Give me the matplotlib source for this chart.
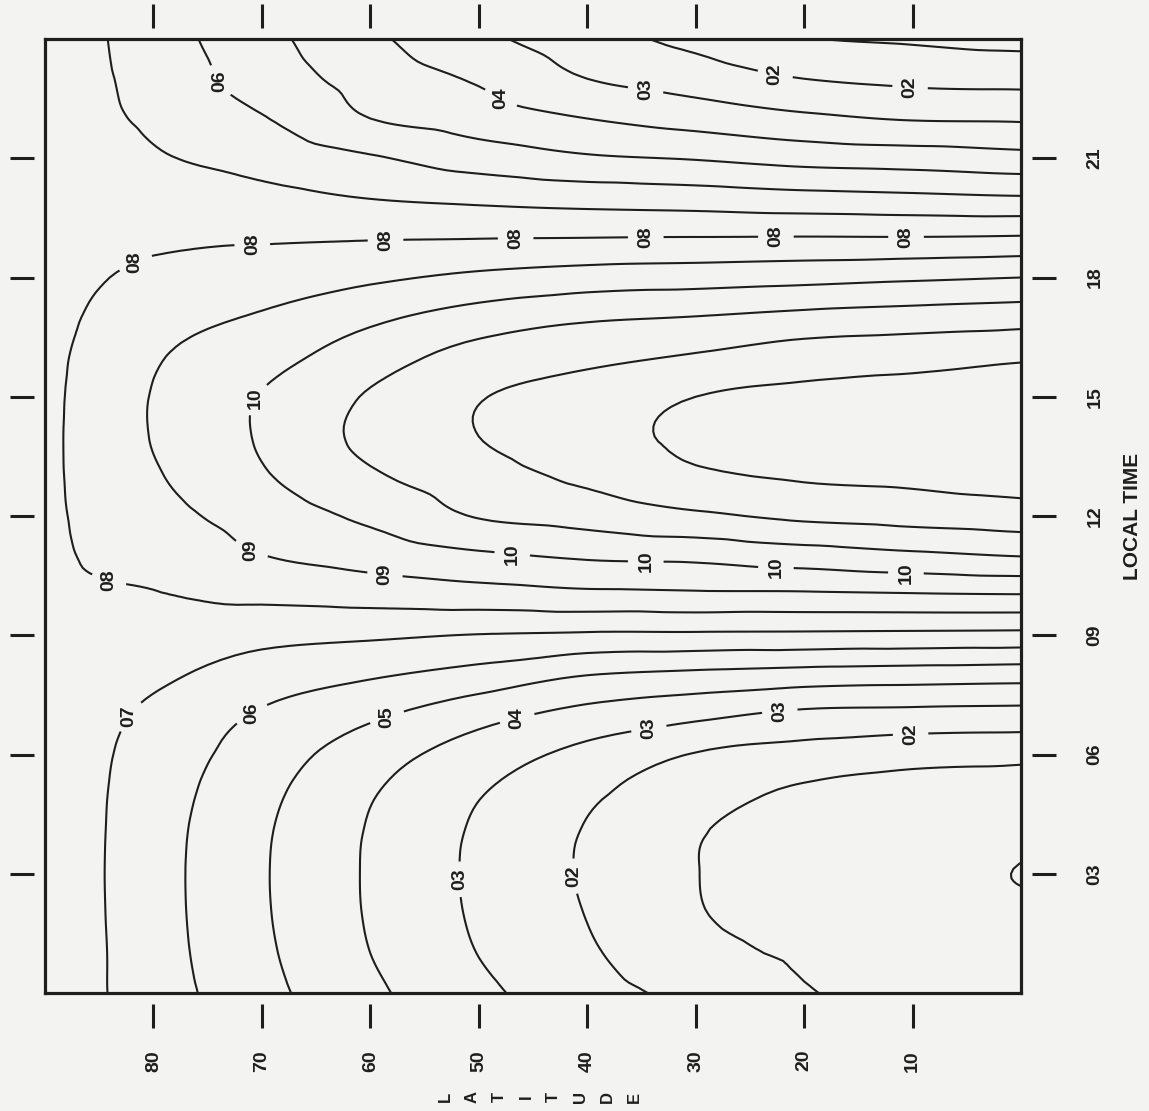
import numpy as np
import matplotlib
matplotlib.use('Agg')
import matplotlib.pyplot as plt
import matplotlib.tri as mtri

# grid: rows = latitude, columns = local time 00..24 h
latitude = [0, 10, 20, 30, 40, 50, 60, 70, 80, 85, 90]
local_time = [0, 1, 2, 3, 4, 5, 6, 7, 8, 9, 10, 11, 12,
              13, 14, 15, 16, 17, 18, 19, 20, 21, 22, 23, 24]

r_lat00 = [0.07, 0.04, 0.02, -0.004, 0.02, 0.03, 0.13, 0.263, 0.441, 0.672, 0.893, 1.103, 1.254,
           1.34, 1.37, 1.345, 1.288, 1.157, 1.0, 0.81, 0.61, 0.433, 0.288, 0.17, 0.07]
r_lat10 = [0.087, 0.068, 0.052, 0.042, 0.045, 0.052, 0.138, 0.269, 0.449, 0.676, 0.888, 1.08, 1.237,
           1.32, 1.35, 1.33, 1.268, 1.143, 0.985, 0.804, 0.622, 0.452, 0.293, 0.177, 0.087]
r_lat20 = [0.105, 0.088, 0.076, 0.068, 0.072, 0.082, 0.164, 0.278, 0.459, 0.68, 0.881, 1.053, 1.219,
           1.31, 1.34, 1.32, 1.252, 1.127, 0.969, 0.805, 0.633, 0.465, 0.32, 0.2, 0.105]
r_lat30 = [0.173, 0.126, 0.106, 0.102, 0.106, 0.142, 0.195, 0.324, 0.477, 0.683, 0.88, 1.025, 1.183,
           1.284, 1.32, 1.3, 1.21, 1.103, 0.956, 0.803, 0.65, 0.494, 0.36, 0.252, 0.173]
r_lat40 = [0.241, 0.213, 0.197, 0.189, 0.193, 0.216, 0.271, 0.368, 0.501, 0.685, 0.874, 1.014, 1.14,
           1.22, 1.26, 1.245, 1.175, 1.086, 0.945, 0.8, 0.661, 0.513, 0.4, 0.3, 0.241]
r_lat50 = [0.322, 0.298, 0.286, 0.282, 0.286, 0.305, 0.353, 0.435, 0.565, 0.696, 0.856, 0.984, 1.106,
           1.16, 1.2, 1.195, 1.14, 1.043, 0.92, 0.797, 0.678, 0.553, 0.45, 0.389, 0.322]
r_lat60 = [0.42, 0.4, 0.391, 0.389, 0.392, 0.407, 0.445, 0.517, 0.611, 0.715, 0.838, 0.942, 1.02,
           1.087, 1.125, 1.11, 1.053, 0.98, 0.883, 0.794, 0.698, 0.61, 0.5, 0.458, 0.42]
r_lat70 = [0.531, 0.518, 0.511, 0.509, 0.5125, 0.526, 0.552, 0.59, 0.652, 0.729, 0.82, 0.898, 0.945,
           0.99, 1.01, 1.005, 0.963, 0.91, 0.847, 0.79, 0.726, 0.666, 0.606, 0.556, 0.531]
r_lat80 = [0.649, 0.643, 0.64, 0.639, 0.641, 0.648, 0.66, 0.68, 0.72, 0.765, 0.795, 0.83, 0.865,
           0.89, 0.905, 0.905, 0.89, 0.86, 0.825, 0.78, 0.745, 0.71, 0.684, 0.666, 0.649]
r_lat85 = [0.71, 0.71, 0.708, 0.707, 0.708, 0.71, 0.715, 0.727, 0.745, 0.77, 0.79, 0.812, 0.826,
           0.836, 0.84, 0.837, 0.828, 0.812, 0.795, 0.775, 0.755, 0.737, 0.72, 0.715, 0.71]
r_lat90 = [0.78] * 25

levels = [0.0, 0.1, 0.2, 0.3, 0.4, 0.5, 0.6, 0.7, 0.8, 0.9, 1.0, 1.1, 1.2, 1.3]
label_text = {0.0: '00', 0.1: '01', 0.2: '02', 0.3: '03', 0.4: '04', 0.5: '05', 0.6: '06',
              0.7: '07', 0.8: '08', 0.9: '09', 1.0: '10', 1.1: '11', 1.2: '12', 1.3: '13'}

# where the contour labels sit (latitude, local time)
label_spots = [(73.1, 23.1), (48.0, 22.5), (34.6, 22.76), (22.6, 23.2), (10.2, 22.9),
               (81.7, 18.4), (70.9, 19.0), (58.6, 19.0), (46.6, 19.0), (34.6, 19.0),
               (22.6, 19.0), (10.6, 19.0),
               (70.9, 15.0), (70.9, 11.2), (84.0, 10.6), (58.6, 10.65), (46.9, 11.1),
               (34.6, 10.9), (22.6, 10.75), (10.6, 10.7),
               (82.4, 7.0), (71.1, 7.1), (58.8, 7.2), (46.6, 7.06), (34.4, 6.8),
               (22.3, 7.26), (10.2, 6.63),
               (51.7, 2.86), (41.1, 2.94)]

lt_ticks = [3, 6, 9, 12, 15, 18, 21]
lt_ticklabels = ['03', '06', '09', '12', '15', '18', '21']
lat_ticks = [10, 20, 30, 40, 50, 60, 70, 80]
lat_ticklabels = ['10', '20', '30', '40', '50', '60', '70', '80']

plt.rcParams['font.family'] = ['Liberation Sans', 'DejaVu Sans']
plt.rcParams['font.weight'] = 'bold'

ink = '#1e1e1e'
paper = '#f3f3f1'

z = np.array([r_lat00, r_lat10, r_lat20, r_lat30, r_lat40, r_lat50,
              r_lat60, r_lat70, r_lat80, r_lat85, r_lat90])
LAT, LT = np.meshgrid(latitude, local_time, indexing='ij')
nlt = len(local_time)
triangles = []
for i in range(len(latitude) - 1):
    for j in range(nlt - 1):
        k = i * nlt + j
        triangles.append([k, k + 1, k + nlt])
        triangles.append([k + 1, k + nlt + 1, k + nlt])

# smooth the coarse grid with matplotlib's own cubic refiner
tri = mtri.Triangulation(LAT.ravel() / 10.0, LT.ravel() / 3.0, triangles)
interp = mtri.CubicTriInterpolator(tri, z.ravel(), kind='geom')
tri_f, z_f = mtri.UniformTriRefiner(tri).refine_field(z.ravel(), triinterpolator=interp, subdiv=3)
tri_p = mtri.Triangulation(tri_f.x * 10.0, tri_f.y * 3.0, tri_f.triangles)

fig = plt.figure(figsize=(11.49, 11.11), dpi=100, facecolor=paper)
pos = [45 / 1149, 1 - 993 / 1111, (1021 - 45) / 1149, (993 - 39) / 1111]
ax = fig.add_axes(pos, facecolor=paper)
ax.set_xlim(90, 0)
ax.set_ylim(0, 24)
cs = ax.tricontour(tri_p, z_f, levels=levels, colors=ink, linewidths=1.5)
ax.set_xticks([])
ax.set_yticks([])
for s in ax.spines.values():
    s.set_linewidth(2.3)
    s.set_color(ink)

texts = ax.clabel(cs, fmt=label_text, manual=label_spots, inline=True,
                  inline_spacing=7, fontsize=14)
for t in texts:
    t.set_rotation(90)
    t.set_color(ink)

# detached tick marks, like the plotter drew them
ax2 = fig.add_axes(pos, facecolor='none')
ax2.set_xlim(90, 0)
ax2.set_ylim(0, 24)
for s in ax2.spines.values():
    s.set_visible(False)
    s.set_position(('outward', 8))
ax2.set_xticks(lat_ticks, lat_ticklabels)
ax2.set_yticks(lt_ticks, lt_ticklabels)
ax2.tick_params(direction='out', length=17, width=2.2, color=ink, top=True, right=True,
                left=True, bottom=True, labelleft=False, labeltop=False,
                labelright=True, labelbottom=True, labelsize=14, labelcolor=ink)
ax2.tick_params(axis='y', pad=22)
ax2.tick_params(axis='x', pad=16)
for lb in ax2.get_xticklabels():
    lb.set_rotation(90)
    lb.set_va('top')
    lb.set_ha('center')
for lb in ax2.get_yticklabels():
    lb.set_rotation(90)
    lb.set_va('center')
    lb.set_ha('left')

fig.text(1133 / 1149, 1 - 516 / 1111, 'LOCAL TIME', rotation=90, ha='center', va='center',
         fontsize=15, color=ink)
fig.text(540 / 1149, 1 - 1097 / 1111, 'L\nA\nT\nI\nT\nU\nD\nE', rotation=90, ha='center',
         va='center', fontsize=12, linespacing=2.0, color=ink)

fig.savefig('out.png', dpi=100, facecolor=paper)
